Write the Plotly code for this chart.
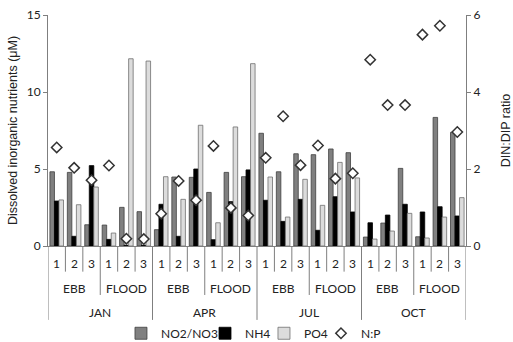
import plotly.graph_objects as go

months = ["JAN", "APR", "JUL", "OCT"]
tides = ["EBB", "FLOOD"]
stations = ["1", "2", "3"]

no2no3 = [4.82, 4.78, 1.38, 1.36, 2.51, 2.23,
          1.06, 4.48, 4.46, 3.48, 4.78, 4.50,
          7.32, 4.82, 5.99, 5.93, 6.30, 6.06,
          0.58, 1.49, 5.04, 0.60, 8.35, 7.38]
nh4 = [2.92, 0.63, 5.22, 0.43, 0.05, 0.05,
       2.71, 0.63, 5.00, 0.41, 2.88, 4.94,
       2.97, 1.60, 3.03, 1.02, 3.20, 2.21,
       1.51, 2.01, 2.71, 2.21, 2.55, 1.95]
po4 = [2.99, 2.68, 3.83, 0.84, 12.16, 12.01,
       4.50, 3.03, 7.84, 1.51, 7.73, 11.84,
       4.48, 1.88, 4.33, 2.64, 5.43, 4.42,
       0.45, 0.97, 2.12, 0.52, 1.88, 3.14]
np_ratio = [2.56, 2.03, 1.71, 2.09, 0.19, 0.18,
            0.84, 1.69, 1.19, 2.60, 0.99, 0.79,
            2.29, 3.37, 2.10, 2.61, 1.75, 1.89,
            4.84, 3.66, 3.66, 5.49, 5.72, 2.96]

n = len(no2no3)
xs = list(range(n))

fig = go.Figure()
fig.add_trace(go.Bar(x=xs, y=no2no3, name="NO2/NO3", legend="legend",
                     marker=dict(color="#808080", line=dict(color="#3f3f3f", width=0.8))))
fig.add_trace(go.Bar(x=xs, y=nh4, name="NH4", legend="legend2",
                     marker=dict(color="#000000", line=dict(color="#000000", width=0.8))))
fig.add_trace(go.Bar(x=xs, y=po4, name="PO4", legend="legend3",
                     marker=dict(color="#dcdcdc", line=dict(color="#6f6f6f", width=0.8))))
fig.add_trace(go.Scatter(x=xs, y=np_ratio, name="N:P", mode="markers", yaxis="y2",
                         legend="legend4",
                         marker=dict(symbol="diamond", size=8, color="white",
                                     line=dict(color="#333333", width=1.5))))
for tr in fig.data:
    tr.showlegend = True

shapes = []
annotations = []
ytop = 0.0
st_bot, td_bot, mo_bot = -0.111, -0.212, -0.320
for b in range(n + 1):
    xb = b - 0.5
    if b % 6 == 0:
        yb = mo_bot
    elif b % 3 == 0:
        yb = td_bot
    else:
        yb = st_bot
    shapes.append(dict(type="line", xref="x", yref="paper", x0=xb, x1=xb, y0=ytop, y1=yb,
                       line=dict(color="#7f7f7f", width=1)))

lab_font = dict(family="Lato, Open Sans, sans-serif", size=12, color="#222222")
for i in range(n):
    annotations.append(dict(x=i, y=-0.0736, xref="x", yref="paper", text=stations[i % 3],
                            showarrow=False, font=lab_font, xanchor="center", yanchor="middle"))
for t in range(8):
    annotations.append(dict(x=t * 3 + 1, y=-0.183, xref="x", yref="paper", text=tides[t % 2],
                            showarrow=False, font=lab_font, xanchor="center", yanchor="middle"))
for m in range(4):
    annotations.append(dict(x=m * 6 + 2.5, y=-0.289, xref="x", yref="paper", text=months[m],
                            showarrow=False, font=lab_font, xanchor="center", yanchor="middle"))

def leg(xp):
    return dict(orientation="h", x=xp, xanchor="left", y=-0.315, yanchor="top",
                font=dict(size=12, family="Lato, Open Sans, sans-serif", color="#222222"),
                itemwidth=30, bgcolor="rgba(0,0,0,0)")

fig.update_layout(
    width=513, height=342,
    margin=dict(l=48, r=47, t=15, b=96, autoexpand=False),
    paper_bgcolor="white", plot_bgcolor="white",
    showlegend=True,
    barmode="group", bargap=0.22, bargroupgap=0,
    font=dict(family="Lato, Open Sans, sans-serif", size=12, color="#222222"),
    xaxis=dict(range=[-0.5, n - 0.5], showticklabels=False, ticks="", showgrid=False,
               zeroline=False, showline=True, linecolor="#7f7f7f", linewidth=1),
    yaxis=dict(range=[0, 15], tickvals=[0, 5, 10, 15], ticks="outside", ticklen=4,
               tickcolor="#7f7f7f", showgrid=False, zeroline=False, showline=True,
               linecolor="#7f7f7f", linewidth=1,
               title=dict(text="Dissolved inorganic nutrients (μM)", standoff=6,
                          font=dict(family="Liberation Sans, Arial, sans-serif", size=12.5))),
    yaxis2=dict(range=[0, 6], tickvals=[0, 2, 4, 6], overlaying="y", side="right",
                ticks="outside", ticklen=4, tickcolor="#7f7f7f", showgrid=False,
                zeroline=False, showline=True, linecolor="#7f7f7f", linewidth=1,
                title=dict(text="DIN:DIP ratio", standoff=22,
                           font=dict(family="Liberation Sans, Arial, sans-serif", size=12.5))),
    legend=leg(0.1746), legend2=leg(0.3756), legend3=leg(0.5167), legend4=leg(0.6531),
    shapes=shapes, annotations=annotations,
)

fig.write_html("out.html")
